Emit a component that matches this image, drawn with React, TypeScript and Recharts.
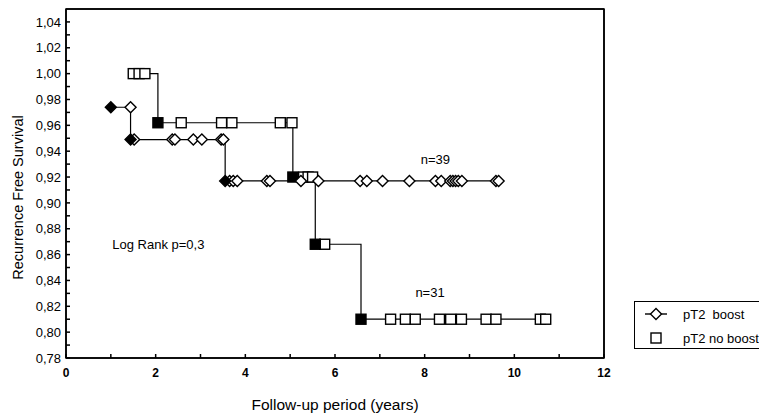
import { ComposedChart, Line, Scatter, XAxis, YAxis, ReferenceDot, ReferenceArea, Label } from "recharts";

// Kaplan-Meier steps (years, survival)
const boostCurve = [
  { x: 1.0, y: 0.974 },
  { x: 1.44, y: 0.949 },
  { x: 3.55, y: 0.917 },
  { x: 9.65, y: 0.917 },
];
const boostEvents = [
  { x: 1.0, y: 0.974 },
  { x: 1.44, y: 0.949 },
  { x: 3.55, y: 0.917 },
];
const boostCensored = [
  { x: 1.44, y: 0.974 },
  { x: 1.52, y: 0.949 },
  { x: 2.37, y: 0.949 },
  { x: 2.43, y: 0.949 },
  { x: 2.84, y: 0.949 },
  { x: 3.03, y: 0.949 },
  { x: 3.46, y: 0.949 },
  { x: 3.51, y: 0.949 },
  { x: 3.65, y: 0.917 },
  { x: 3.73, y: 0.917 },
  { x: 3.82, y: 0.917 },
  { x: 4.48, y: 0.917 },
  { x: 4.55, y: 0.917 },
  { x: 5.24, y: 0.917 },
  { x: 5.63, y: 0.917 },
  { x: 6.56, y: 0.917 },
  { x: 6.71, y: 0.917 },
  { x: 7.06, y: 0.917 },
  { x: 7.66, y: 0.917 },
  { x: 8.24, y: 0.917 },
  { x: 8.37, y: 0.917 },
  { x: 8.57, y: 0.917 },
  { x: 8.63, y: 0.917 },
  { x: 8.69, y: 0.917 },
  { x: 8.75, y: 0.917 },
  { x: 8.83, y: 0.917 },
  { x: 9.59, y: 0.917 },
  { x: 9.65, y: 0.917 },
];

const noBoostCurve = [
  { x: 1.5, y: 1.0 },
  { x: 2.05, y: 0.962 },
  { x: 5.06, y: 0.92 },
  { x: 5.56, y: 0.868 },
  { x: 6.58, y: 0.81 },
  { x: 10.7, y: 0.81 },
];
const noBoostEvents = [
  { x: 2.05, y: 0.962 },
  { x: 5.06, y: 0.92 },
  { x: 5.56, y: 0.868 },
  { x: 6.58, y: 0.81 },
];
const noBoostCensored = [
  { x: 1.5, y: 1.0 },
  { x: 1.63, y: 1.0 },
  { x: 1.76, y: 1.0 },
  { x: 2.57, y: 0.962 },
  { x: 3.47, y: 0.962 },
  { x: 3.7, y: 0.962 },
  { x: 4.78, y: 0.962 },
  { x: 5.04, y: 0.962 },
  { x: 5.3, y: 0.92 },
  { x: 5.4, y: 0.92 },
  { x: 5.5, y: 0.92 },
  { x: 5.77, y: 0.868 },
  { x: 7.24, y: 0.81 },
  { x: 7.57, y: 0.81 },
  { x: 7.79, y: 0.81 },
  { x: 8.33, y: 0.81 },
  { x: 8.58, y: 0.81 },
  { x: 8.82, y: 0.81 },
  { x: 9.37, y: 0.81 },
  { x: 9.59, y: 0.81 },
  { x: 10.58, y: 0.81 },
  { x: 10.7, y: 0.81 },
];

const xTicks = [0, 1, 2, 3, 4, 5, 6, 7, 8, 9, 10, 11, 12];
const yTicks = [
  0.78, 0.79, 0.8, 0.81, 0.82, 0.83, 0.84, 0.85, 0.86, 0.87, 0.88, 0.89, 0.9, 0.91, 0.92, 0.93,
  0.94, 0.95, 0.96, 0.97, 0.98, 0.99, 1.0, 1.01, 1.02, 1.03, 1.04,
];

const notes = [
  { x: 8.24, y: 0.9335, text: "n=39" },
  { x: 8.12, y: 0.831, text: "n=31" },
  { x: 2.06, y: 0.8676, text: "Log Rank p=0,3" },
];

const FONT = "'Liberation Sans', Arial, sans-serif";

function Diamond({ cx, cy, filled }: { cx: number; cy: number; filled?: boolean }) {
  const r = 5.5;
  return (
    <path
      d={`M${cx},${cy - r}L${cx + r},${cy}L${cx},${cy + r}L${cx - r},${cy}Z`}
      fill={filled ? "#000" : "#fff"}
      stroke="#000"
      strokeWidth={1.4}
    />
  );
}

function Square({ cx, cy, filled }: { cx: number; cy: number; filled?: boolean }) {
  return (
    <rect
      x={cx - 5}
      y={cy - 5}
      width={10}
      height={10}
      fill={filled ? "#000" : "#fff"}
      stroke="#000"
      strokeWidth={1.4}
    />
  );
}

const xLabel = (v: number) => (v % 2 === 0 ? String(v) : "");
const yLabel = (v: number) => (Math.round(v * 100) % 2 === 0 ? v.toFixed(2).replace(".", ",") : "");
const blank = () => "";

export default function App() {
  return (
    <div style={{ position: "absolute", left: 0, top: 0, width: 759, height: 417, fontFamily: FONT, background: "#fff" }}>
      <ComposedChart width={759} height={417} margin={{ top: 8, right: 154, bottom: 0, left: 0 }}>
        <XAxis
          dataKey="x"
          type="number"
          domain={[0, 12]}
          ticks={xTicks}
          interval={0}
          tickFormatter={xLabel}
          tickSize={-4}
          tickMargin={14}
          height={59}
          allowDataOverflow
          stroke="#000"
          strokeWidth={1.5}
          tick={{ fill: "#000", fontSize: 12, fontWeight: "bold" }}
        >
          <Label value="Follow-up period (years)" position="insideBottom" offset={7} fill="#000" fontSize={15.5} />
        </XAxis>
        <XAxis
          xAxisId="top"
          orientation="top"
          dataKey="x"
          type="number"
          domain={[0, 12]}
          ticks={xTicks}
          interval={0}
          tickFormatter={blank}
          tickSize={-3}
          height={1}
          stroke="#000"
          strokeWidth={1.5}
        />
        <YAxis
          type="number"
          domain={[0.78, 1.05]}
          ticks={yTicks}
          interval={0}
          tickFormatter={yLabel}
          tickSize={-4}
          tickMargin={9}
          width={66}
          allowDataOverflow
          stroke="#000"
          strokeWidth={1.5}
          tick={{ fill: "#000", fontSize: 13 }}
        >
          <Label
            content={({ viewBox }: any) => {
              const cx = viewBox.x + 18;
              const cy = viewBox.y + viewBox.height / 2 + 14;
              return (
                <text
                  x={cx}
                  y={cy}
                  transform={`rotate(-90 ${cx} ${cy})`}
                  textAnchor="middle"
                  dominantBaseline="central"
                  fill="#000"
                  fontSize={14.5}
                >
                  Recurrence Free Survival
                </text>
              );
            }}
          />
        </YAxis>
        <YAxis
          yAxisId="right"
          orientation="right"
          type="number"
          domain={[0.78, 1.05]}
          ticks={yTicks}
          interval={0}
          tickFormatter={blank}
          tickSize={-3}
          width={1}
          stroke="#000"
          strokeWidth={1.5}
        />

        {/* plot frame */}
        <ReferenceArea
          x1={0}
          x2={12}
          y1={0.78}
          y2={1.05}
          fill="none"
          fillOpacity={0}
          stroke="#000"
          strokeWidth={1.5}
          ifOverflow="visible"
        />

        <Line
          data={boostCurve}
          dataKey="y"
          type="stepAfter"
          stroke="#000"
          strokeWidth={1.2}
          dot={false}
          activeDot={false}
          isAnimationActive={false}
        />
        <Line
          data={noBoostCurve}
          dataKey="y"
          type="stepAfter"
          stroke="#000"
          strokeWidth={1.2}
          dot={false}
          activeDot={false}
          isAnimationActive={false}
        />

        <Scatter
          data={noBoostCensored}
          dataKey="y"
          isAnimationActive={false}
          shape={(p: any) => <Square cx={p.cx} cy={p.cy} />}
        />
        <Scatter
          data={noBoostEvents}
          dataKey="y"
          isAnimationActive={false}
          shape={(p: any) => <Square cx={p.cx} cy={p.cy} filled />}
        />
        <Scatter
          data={boostCensored}
          dataKey="y"
          isAnimationActive={false}
          shape={(p: any) => <Diamond cx={p.cx} cy={p.cy} />}
        />
        <Scatter
          data={boostEvents}
          dataKey="y"
          isAnimationActive={false}
          shape={(p: any) => <Diamond cx={p.cx} cy={p.cy} filled />}
        />

        {notes.map((n) => (
          <ReferenceDot
            key={n.text}
            x={n.x}
            y={n.y}
            r={0}
            fill="none"
            stroke="none"
            label={{ value: n.text, position: "center", fill: "#000", fontSize: 13 }}
          />
        ))}
      </ComposedChart>

      {/* legend box, cut off by the right edge as in the source */}
      <div
        style={{
          position: "absolute",
          left: 634,
          top: 301,
          width: 140,
          height: 46,
          border: "1px solid #000",
          fontSize: 13,
          color: "#000",
          whiteSpace: "pre",
        }}
      >
        <div style={{ position: "absolute", left: 8, top: 5, height: 14, display: "flex", alignItems: "center" }}>
          <svg width={26} height={14}>
            <line x1={2} y1={7} x2={24} y2={7} stroke="#000" strokeWidth={1.4} />
            <Diamond cx={13} cy={7} />
          </svg>
          <span style={{ marginLeft: 14 }}>pT2  boost</span>
        </div>
        <div style={{ position: "absolute", left: 8, top: 29, height: 14, display: "flex", alignItems: "center" }}>
          <svg width={26} height={14}>
            <Square cx={13} cy={7} />
          </svg>
          <span style={{ marginLeft: 14 }}>pT2 no boost</span>
        </div>
      </div>
    </div>
  );
}
